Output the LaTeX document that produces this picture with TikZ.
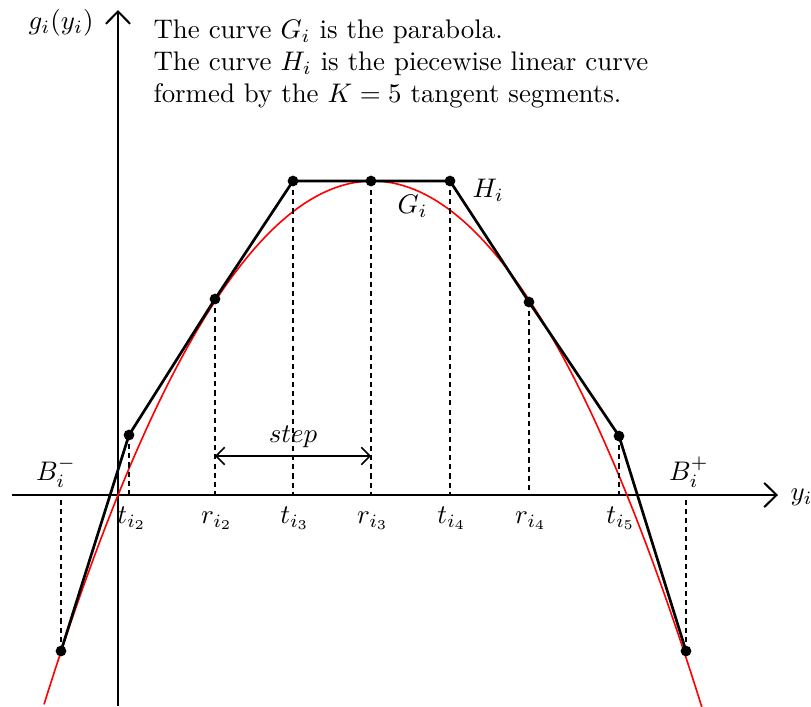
\documentclass[tikz,border=0pt]{standalone}
\usetikzlibrary{arrows.meta}
\begin{document}
\begin{tikzpicture}[x=0.372pt,y=-0.372pt,
  dot/.style={circle,fill=black,inner sep=0pt,minimum size=4pt},
  hcurve/.style={line width=1pt,line join=round},
  gcurve/.style={red,line width=0.6pt},
  axisline/.style={line width=0.75pt,-{Straight Barb[length=4.6pt,width=9pt]}},
  guide/.style={line width=0.4pt,dash pattern=on 1.9pt off 1.5pt},
  steparrow/.style={line width=0.6pt,{Straight Barb[length=3.2pt,width=6.5pt]}-{Straight Barb[length=3.2pt,width=6.5pt]}},
  lbl/.style={inner sep=0pt}]
\useasboundingbox (0,0) rectangle (811,706);

% axes
\coordinate (xs) at (12,495);
\coordinate (xe) at (778,495);
\coordinate (ys) at (118,706);
\coordinate (ye) at (118,10);
\draw[axisline] (xs) -- (xe);
\draw[axisline] (ys) -- (ye);
\node[lbl,anchor=base west] (ylab) at (790,500) {$y_i$};
\node[lbl,anchor=base east] (glab) at (94,29) {$g_i(y_i)$};

% top text
\node[lbl,anchor=base west] (l1) at (153,38) {The curve $G_i$ is the parabola.};
\node[lbl,anchor=base west] (l2) at (153,70) {The curve $H_i$ is the piecewise linear curve};
\node[lbl,anchor=base west] (l3) at (153,102) {formed by the $K=5$ tangent segments.};

% parabola G_i
\draw[gcurve,domain=44:702,samples=120] plot (\x,{181+(0.06964*(\x-372.5))^2});

% points of H_i
\node[dot] (p1) at (61,651) {};
\node[dot] (p2) at (129,435) {};
\node[dot] (p3) at (215,299) {};
\node[dot] (p4) at (293,181) {};
\node[dot] (p5) at (371,181) {};
\node[dot] (p6) at (450,181) {};
\node[dot] (p7) at (529,302) {};
\node[dot] (p8) at (619,436) {};
\node[dot] (p9) at (686,651) {};

% tick positions on the x axis
\coordinate (a1) at (61,495);
\coordinate (a2) at (129,495);
\coordinate (a3) at (215,495);
\coordinate (a4) at (293,495);
\coordinate (a5) at (371,495);
\coordinate (a6) at (450,495);
\coordinate (a7) at (529,495);
\coordinate (a8) at (619,495);
\coordinate (a9) at (686,495);

\foreach \i in {1,...,9} \draw[guide] (p\i.center) -- (a\i);

\draw[hcurve] (p1.center) -- (p2.center) -- (p3.center) -- (p4.center) -- (p5.center)
  -- (p6.center) -- (p7.center) -- (p8.center) -- (p9.center);

% labels on the axis
\node[lbl,anchor=base] (bm) at (56,480) {$B_i^-$};
\node[lbl,anchor=base] (bp) at (689,480) {$B_i^+$};
\node[lbl,anchor=base] (t2) at (132,523) {$t_{i_2}$};
\node[lbl,anchor=base] (r2) at (217,523) {$r_{i_2}$};
\node[lbl,anchor=base] (t3) at (295,523) {$t_{i_3}$};
\node[lbl,anchor=base] (r3) at (373,523) {$r_{i_3}$};
\node[lbl,anchor=base] (t4) at (452,523) {$t_{i_4}$};
\node[lbl,anchor=base] (r4) at (531,523) {$r_{i_4}$};
\node[lbl,anchor=base] (t5) at (621,523) {$t_{i_5}$};

% curve labels
\node[lbl,anchor=base west] (hl) at (472,197) {$H_i$};
\node[lbl,anchor=base west] (gl) at (397,213) {$G_i$};

% step arrow
\coordinate (s1) at (215,456);
\coordinate (s2) at (371,456);
\draw[steparrow] (s1) -- (s2);
\node[lbl,anchor=base] (stl) at (293,442) {$step$};
\end{tikzpicture}
\end{document}
